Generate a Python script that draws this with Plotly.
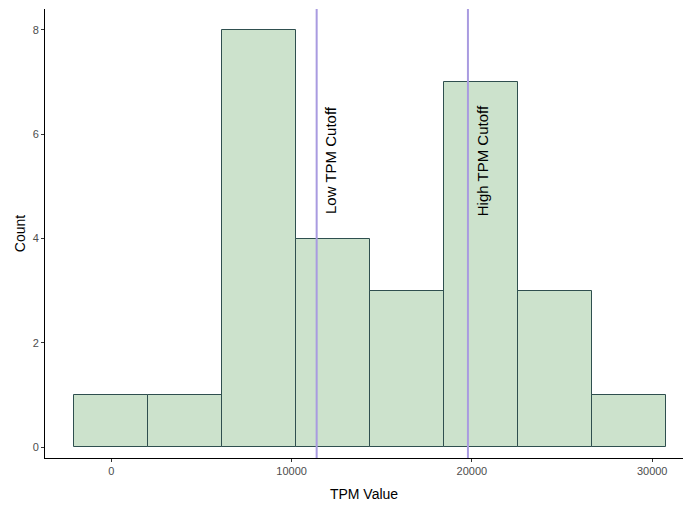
import plotly.graph_objects as go

bin_centers = [0, 4100, 8200, 12300, 16400, 20500, 24600, 28700]
counts = [1, 1, 8, 4, 3, 7, 3, 1]
bin_width = 4100
cutoff_values = [11390, 19780]
cutoff_labels = ["Low TPM Cutoff", "High TPM Cutoff"]
x_ticks = [0, 10000, 20000, 30000]
y_ticks = [0, 2, 4, 6, 8]

fig = go.Figure()
fig.add_trace(go.Bar(
    x=bin_centers, y=counts, width=[bin_width] * len(bin_centers),
    marker=dict(color="#cce2cc", line=dict(color="#2f4f4f", width=1)),
    showlegend=False,
))

for v, lab in zip(cutoff_values, cutoff_labels):
    fig.add_shape(type="line", x0=v, x1=v, y0=0, y1=1, yref="paper", xref="x",
                  line=dict(color="#a99be0", width=2), layer="above")
    fig.add_annotation(x=v, y=5.5, text=lab, textangle=-90, showarrow=False,
                       xshift=14, font=dict(family="Liberation Sans, Arial", size=15, color="black"))

fig.update_layout(
    width=683, height=508,
    margin=dict(l=45, r=0, t=9, b=50),
    plot_bgcolor="white", paper_bgcolor="white",
    bargap=0,
    font=dict(family="Liberation Sans, Arial", color="#4d4d4d"),
)
fig.update_xaxes(
    range=[-3677, 31708], tickvals=x_ticks, ticktext=[str(t) for t in x_ticks],
    showgrid=False, zeroline=False, showline=True, linecolor="black", linewidth=1,
    ticks="outside", ticklen=3, tickcolor="#333333", tickfont=dict(size=11, color="#4d4d4d"),
    title=dict(text="TPM Value", font=dict(size=14, color="black"), standoff=12),
)
fig.update_yaxes(
    range=[-0.205, 8.4], tickvals=y_ticks,
    showgrid=False, zeroline=False, showline=True, linecolor="black", linewidth=1,
    ticks="outside", ticklen=3, tickcolor="#333333", tickfont=dict(size=11, color="#4d4d4d"),
    title=dict(text="Count", font=dict(size=14, color="black"), standoff=3),
)

fig.write_html("out.html")
